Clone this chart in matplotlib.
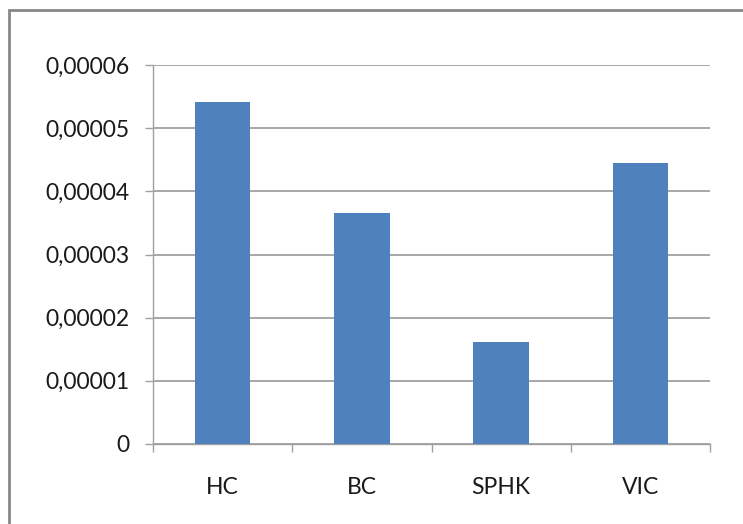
import matplotlib.pyplot as plt
from matplotlib.patches import Rectangle
import numpy as np

# values per sample
categories = ['HC', 'BC', 'SPHK', 'VIC']
values = [0.0000541, 0.0000366, 0.0000161, 0.0000445]

ytick_values = [0, 0.00001, 0.00002, 0.00003, 0.00004, 0.00005, 0.00006]
ytick_labels = ['0', '0,00001', '0,00002', '0,00003', '0,00004', '0,00005', '0,00006']

plt.rcParams['font.family'] = ['Lato', 'DejaVu Sans']

fig = plt.figure(figsize=(7.43, 5.24), dpi=100)
ax = fig.add_axes([153 / 743, 1 - 444 / 524, 557 / 743, 379 / 524])

x = np.arange(len(categories))
ax.bar(x, values, width=0.4, color='#4f81bd', zorder=3)

ax.set_xlim(-0.5, len(categories) - 0.5)
ax.set_ylim(0, 0.00006)

grid_col = '#a0a0a0'
ax.set_yticks(ytick_values)
ax.set_yticklabels(ytick_labels)
ax.yaxis.grid(True, color=grid_col, linewidth=1.3, zorder=0)

ax.set_xticks(x)
ax.set_xticklabels(categories)
ax.set_xticks(np.arange(-0.5, len(categories)), minor=True)

ax.tick_params(axis='y', length=6, width=1, color=grid_col, pad=11,
               labelsize=16.5, labelcolor='#1a1a1a')
ax.tick_params(axis='x', which='major', length=0, pad=24,
               labelsize=16.5, labelcolor='#1a1a1a')
ax.tick_params(axis='x', which='minor', length=6, width=1, color=grid_col)

for side in ['top', 'right']:
    ax.spines[side].set_visible(False)
for side in ['left', 'bottom']:
    ax.spines[side].set_color(grid_col)
    ax.spines[side].set_linewidth(1)

# chart area frame, running off the right and bottom edges
fig.patches.append(Rectangle((9 / 743, -0.1), 1.2, 1 - 10 / 524 + 0.1,
                             transform=fig.transFigure, fill=False,
                             edgecolor='#888888', linewidth=2))

plt.savefig('out.png', dpi=100)
plt.close()
